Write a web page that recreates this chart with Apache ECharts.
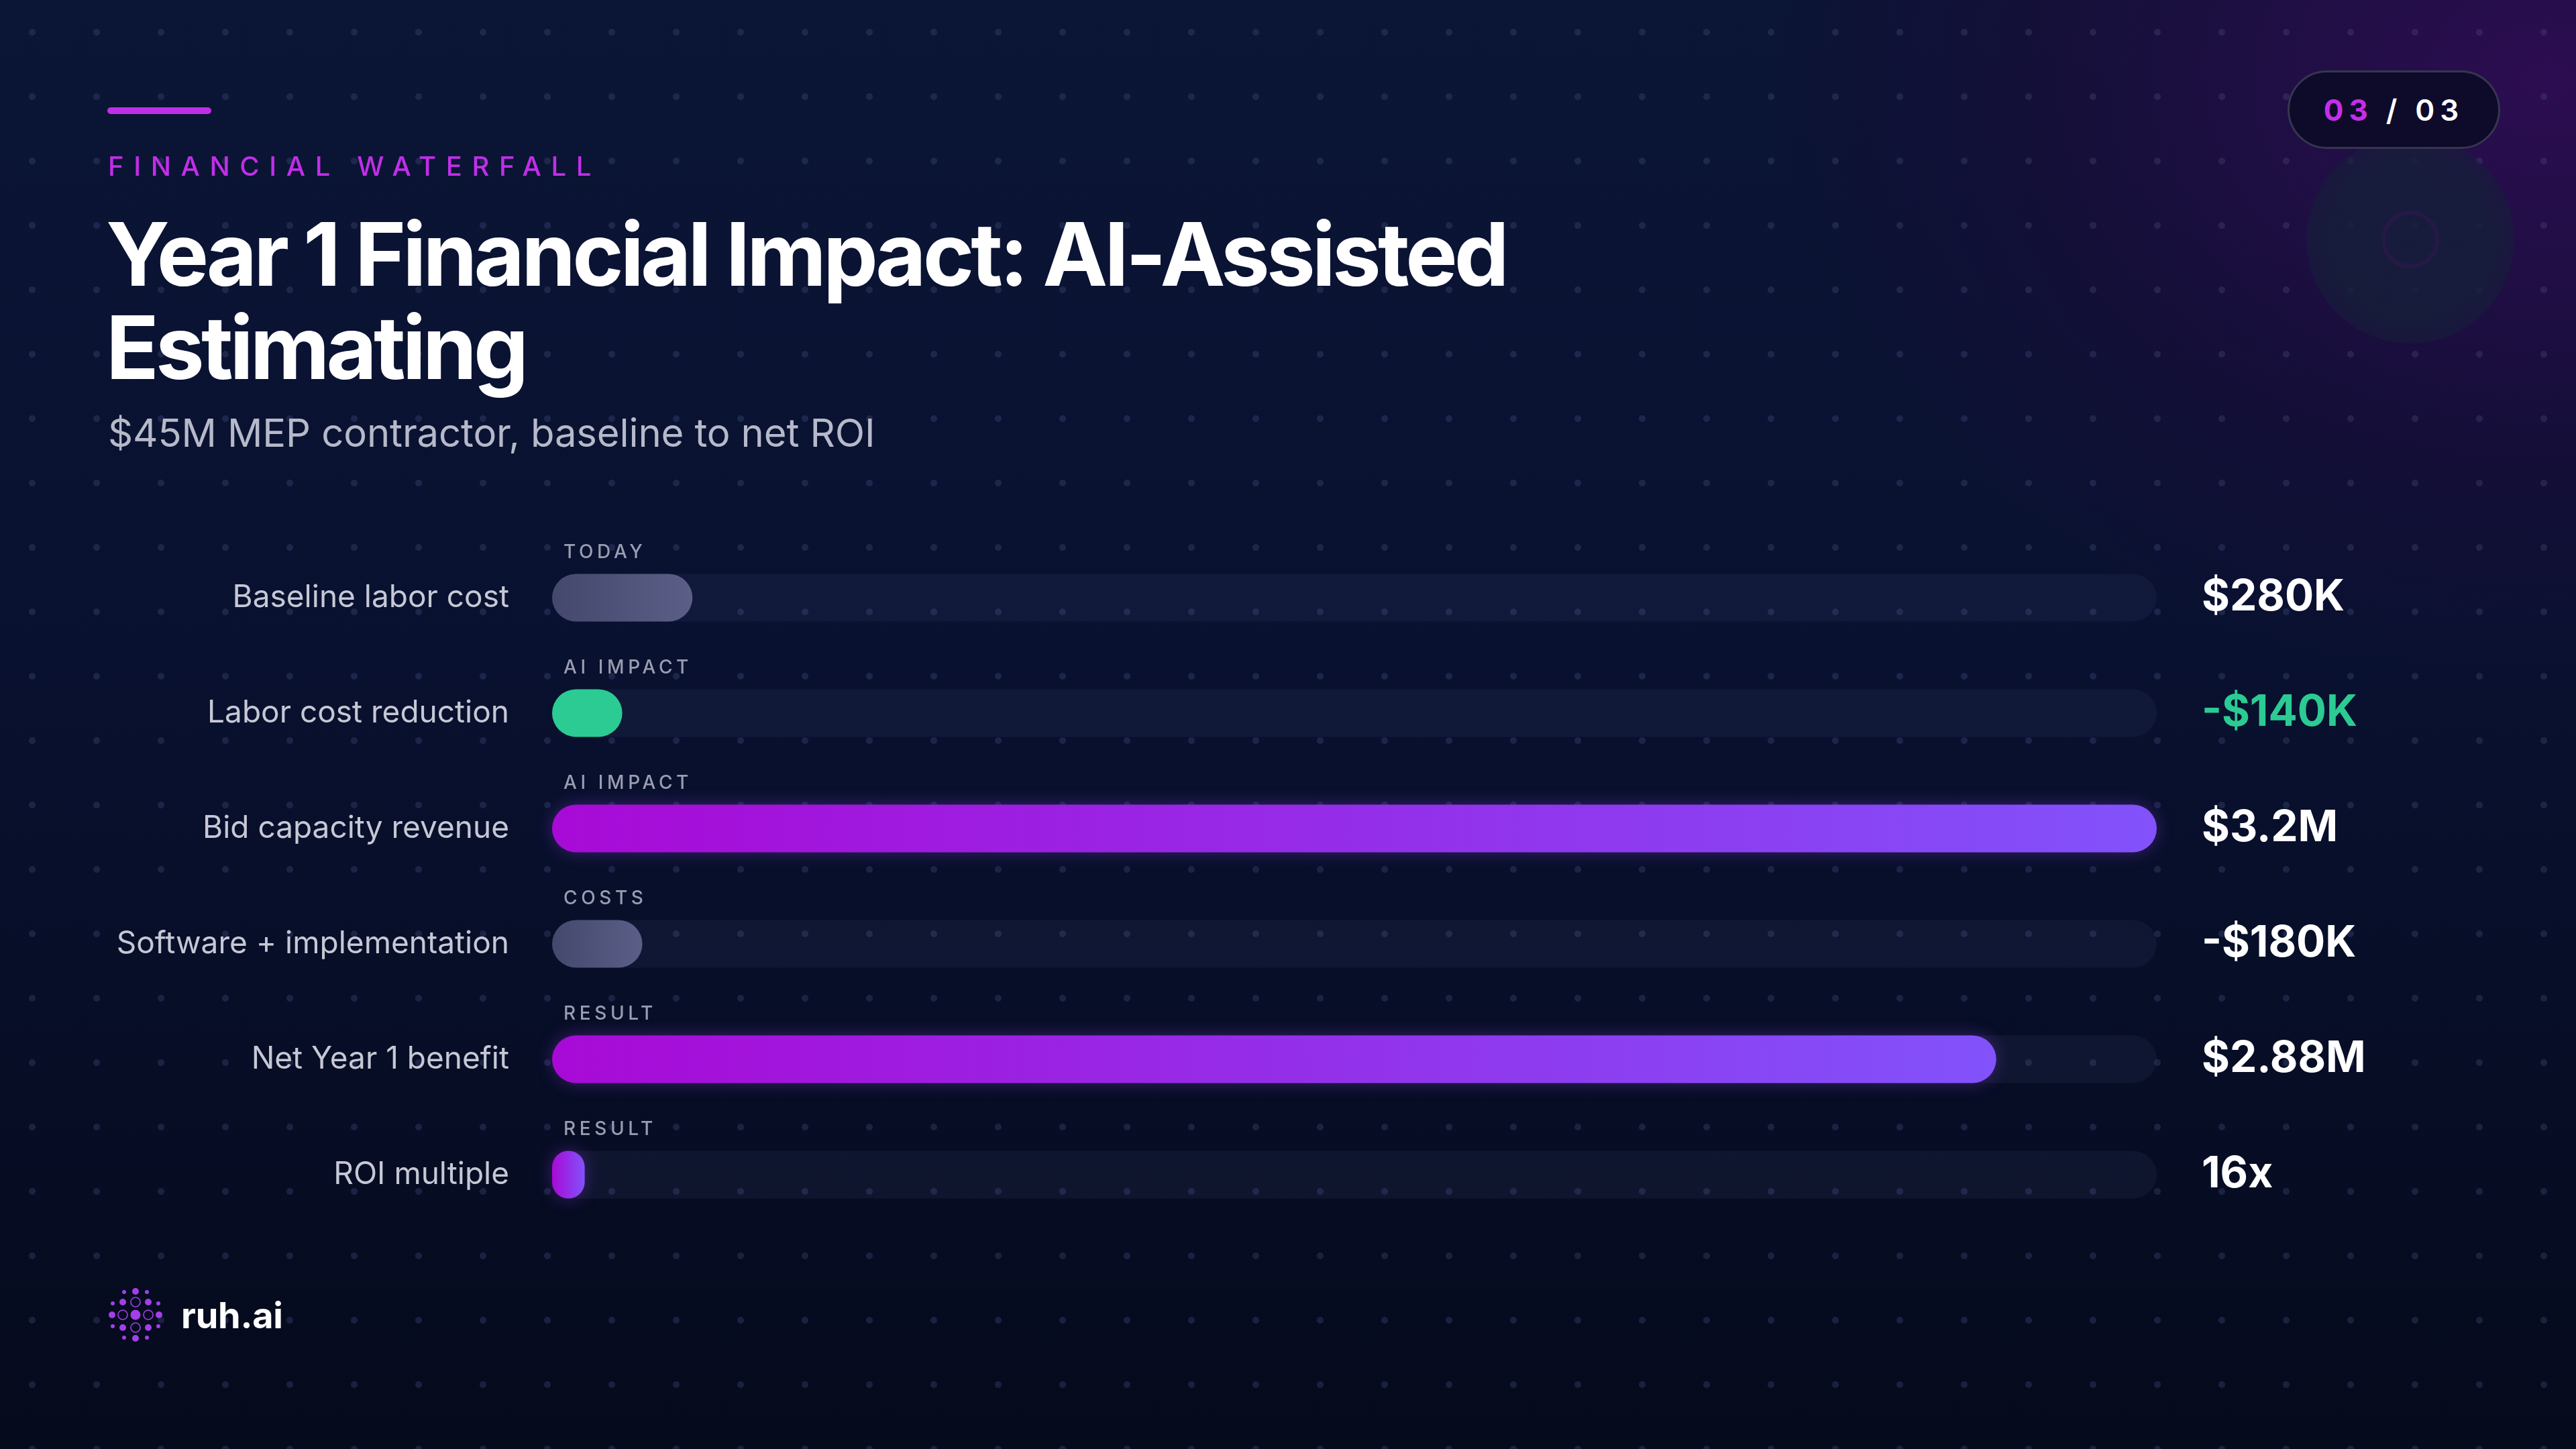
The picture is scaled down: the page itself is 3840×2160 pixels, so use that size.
<!DOCTYPE html>
<html>
<head>
<meta charset="utf-8">
<script src="https://cdn.jsdelivr.net/npm/echarts@6/dist/echarts.min.js"></script>
<style>
  html, body { margin: 0; padding: 0; }
  body {
    width: 3840px; height: 2160px; overflow: hidden; position: relative;
    font-family: Inter, "Noto Sans", sans-serif;
    background:
      radial-gradient(circle, rgba(70, 80, 130, 0.32) 0 4.5px, transparent 5.5px) 0 0 / 96px 96px,
      radial-gradient(ellipse 1550px 1200px at 3800px 120px, rgba(48, 12, 84, 0.9), rgba(30, 10, 60, 0.45) 50%, transparent 75%),
      linear-gradient(180deg, #0b1535 0%, #091130 45%, #050a1c 100%);
  }
  #chart { position: absolute; left: 0; top: 0; width: 3840px; height: 2160px; }
  .accent { position: absolute; left: 160px; top: 160px; width: 155px; height: 10px; border-radius: 5px; background: #c02ee8; }
  .kicker { position: absolute; left: 161px; top: 223px; font-size: 40px; font-weight: 500; letter-spacing: 0.365em; color: #c02ee8; line-height: 50px; }
  .title { position: absolute; left: 158px; top: 309px; font-size: 130px; font-weight: 700; letter-spacing: -0.038em; color: #fff; line-height: 139px; width: 2400px; }
  .subtitle { position: absolute; left: 161px; top: 607px; font-size: 58px; font-weight: 400; color: #b6b9c9; line-height: 76px; letter-spacing: -0.002em; }
  .pill { position: absolute; left: 3410px; top: 105px; width: 311px; height: 111px; border: 3px solid #35364f; border-radius: 60px; background: #0e0b2a;
          display: flex; align-items: center; justify-content: center; font-size: 44px; font-weight: 600; letter-spacing: 0.18em; color: #fff; }
  .pill b { color: #c52ee8; font-weight: 700; }
  .deco { position: absolute; left: 3438px; top: 202px; width: 310px; height: 310px; border-radius: 50%;
          background: radial-gradient(circle, rgba(22, 30, 58, 0.85) 0 55%, rgba(22, 30, 58, 0) 100%); }
  .deco::after { content: ""; position: absolute; left: 112px; top: 112px; width: 74px; height: 74px; border-radius: 50%; border: 6px solid rgba(50, 24, 80, 0.55); }
  .tag { position: absolute; font-size: 28px; font-weight: 500; letter-spacing: 0.2em; color: #9a9db0; transform: translateY(-50%); line-height: 34px; }
  .logo { position: absolute; left: 160px; top: 1918px; display: flex; align-items: center; }
  .logo span { font-size: 54px; font-weight: 700; color: #fff; margin-left: 26px; letter-spacing: -0.005em; }
</style>
</head>
<body>
<div class="deco"></div>
<div id="chart"></div>
<div class="accent"></div>
<div class="kicker">FINANCIAL WATERFALL</div>
<div class="title">Year 1 Financial Impact: AI-Assisted Estimating</div>
<div class="subtitle">$45M MEP contractor, baseline to net ROI</div>
<div class="pill"><b>03</b>&nbsp;/ 03</div>
<div class="logo">
  <svg width="84" height="84" viewBox="-42 -42 84 84">
    <g fill="#a23fe9">
      <circle cx="0" cy="0" r="7.5"/>
      <circle cx="0" cy="-35" r="5"/><circle cx="0" cy="35" r="5"/>
      <circle cx="-35" cy="0" r="5"/><circle cx="35" cy="0" r="5"/>
      <circle cx="-19" cy="-19" r="5"/><circle cx="19" cy="-19" r="5"/>
      <circle cx="-19" cy="19" r="5"/><circle cx="19" cy="19" r="5"/>
      <circle cx="-17" cy="-34" r="3"/><circle cx="17" cy="-34" r="3"/>
      <circle cx="-17" cy="34" r="3"/><circle cx="17" cy="34" r="3"/>
      <circle cx="-34" cy="-17" r="3"/><circle cx="34" cy="-17" r="3"/>
      <circle cx="-34" cy="17" r="3"/><circle cx="34" cy="17" r="3"/>
    </g>
    <g fill="none" stroke="#a23fe9" stroke-width="1.6">
      <circle cx="0" cy="-19" r="7"/><circle cx="0" cy="19" r="7"/>
      <circle cx="-19" cy="0" r="7"/><circle cx="19" cy="0" r="7"/>
    </g>
  </svg>
  <span>ruh.ai</span>
</div>
<script>
// data (values in $K; ROI bar length)
var categories = ['Baseline labor cost', 'Labor cost reduction', 'Bid capacity revenue', 'Software + implementation', 'Net Year 1 benefit', 'ROI multiple'];
var tags = ['TODAY', 'AI IMPACT', 'AI IMPACT', 'COSTS', 'RESULT', 'RESULT'];
var barValues = [280, 140, 3200, 180, 2880, 65];
var valueLabels = ['$280K', '-$140K', '$3.2M', '-$180K', '$2.88M', '16x'];
var axisMax = 3200;

// look per row
var kinds = ['neutral', 'green', 'purple', 'neutral', 'purple', 'purple'];

function grad(a, b) {
    return new echarts.graphic.LinearGradient(0, 0, 1, 0, [{ offset: 0, color: a }, { offset: 1, color: b }]);
}
var fills = {
    neutral: function() { return grad('#44486c', '#5b5e87'); },
    green: function() { return '#2bcb93'; },
    purple: function() { return grad('#a80ad6', '#8252fb'); }
};

var chart = echarts.init(document.getElementById('chart'), null, { renderer: 'canvas' });

var option = {
    backgroundColor: 'transparent',
    animation: false,
    grid: { left: 823, right: 625, top: 805, height: 1032, containLabel: false, outerBoundsMode: 'none' },
    xAxis: { type: 'value', min: 0, max: axisMax, show: false },
    yAxis: [{
        type: 'category',
        inverse: true,
        data: categories,
        axisLine: { show: false },
        axisTick: { show: false },
        axisLabel: { margin: 64, fontSize: 46, color: '#c6c8d5', fontFamily: 'Inter', fontWeight: 400, padding: [8, 0, 0, 0] }
    }, {
        type: 'category',
        inverse: true,
        position: 'right',
        data: valueLabels,
        axisLine: { show: false },
        axisTick: { show: false },
        axisLabel: {
            margin: 67,
            align: 'left',
            fontSize: 64,
            fontWeight: 700,
            fontFamily: 'Inter',
            padding: [14, 0, 0, 0],
            color: function(v, i) { return kinds[i] === 'green' ? '#2bcb93' : '#ffffff'; }
        }
    }],
    series: [{
        type: 'bar',
        barWidth: 71,
        showBackground: true,
        backgroundStyle: { color: 'rgba(120, 130, 190, 0.075)', borderRadius: 36 },
        itemStyle: { borderRadius: 36 },
        data: barValues.map(function(v, i) {
            return {
                value: v,
                itemStyle: {
                    color: fills[kinds[i]](),
                    shadowBlur: kinds[i] === 'purple' ? 24 : 0,
                    shadowColor: 'rgba(150, 60, 240, 0.35)'
                }
            };
        })
    }]
};
chart.setOption(option);

// small uppercase tags above each bar, placed from the axis scales
var x0 = chart.convertToPixel({ xAxisIndex: 0 }, 0);
categories.forEach(function(c, i) {
    var y = chart.convertToPixel({ yAxisIndex: 0 }, c);
    var el = document.createElement('div');
    el.className = 'tag';
    el.textContent = tags[i];
    el.style.left = (x0 + 17) + 'px';
    el.style.top = (y - 69) + 'px';
    document.body.appendChild(el);
});
</script>
</body>
</html>
